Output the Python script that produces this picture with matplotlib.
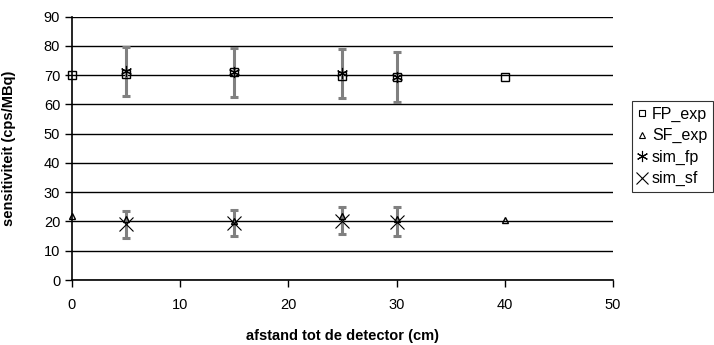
import numpy as np
from matplotlib import pyplot as plt
from matplotlib.lines import Line2D

plt.rcParams['font.family'] = ['Liberation Sans', 'DejaVu Sans']

# measured data
afstand = [0, 5, 15, 25, 30, 40]
fp_exp = [70.0, 70.5, 71.0, 69.7, 69.5, 69.3]
sf_exp = [22.0, 21.0, 20.0, 22.0, 21.0, 20.5]

# simulation (with error bars)
afstand_sim = [5, 15, 25, 30]
sim_fp = [71.3, 71.0, 70.6, 69.5]
sim_fp_err = [8.5, 8.4, 8.4, 8.5]
sim_sf = [19.0, 19.5, 20.2, 19.9]
sim_sf_err = [4.6, 4.5, 4.6, 4.9]

fig = plt.figure(figsize=(7.14, 3.45), dpi=100)
ax = fig.add_axes([0.1008, 0.1884, 0.7577, 0.7632])

grey = '#808080'
ax.errorbar(afstand_sim, sim_fp, yerr=sim_fp_err, fmt='none', ecolor=grey,
            elinewidth=2.2, capsize=3, capthick=2.2, zorder=3)
ax.errorbar(afstand_sim, sim_sf, yerr=sim_sf_err, fmt='none', ecolor=grey,
            elinewidth=2.2, capsize=3, capthick=2.2, zorder=3)

ax.plot(afstand, fp_exp, linestyle='none', marker='s', markersize=5.5,
        markerfacecolor='none', markeredgecolor='black', markeredgewidth=1,
        zorder=4, clip_on=False)
ax.plot(afstand, sf_exp, linestyle='none', marker='^', markersize=5,
        markerfacecolor='none', markeredgecolor='black', markeredgewidth=1,
        zorder=4, clip_on=False)
ax.plot(afstand_sim, sim_fp, linestyle='none', marker=(6, 2, 0), markersize=8,
        markeredgecolor='black', markeredgewidth=0.8, zorder=5)
ax.plot(afstand_sim, sim_sf, linestyle='none', marker='x', markersize=10,
        markeredgecolor='black', markeredgewidth=0.8, zorder=5)

ax.set_xlim(0, 50)
ax.set_ylim(0, 90)
ax.set_xticks(np.arange(0, 51, 10))
ax.set_yticks(np.arange(0, 91, 10))
ax.yaxis.grid(True, color='black', linewidth=1)
ax.set_axisbelow(True)
for side in ['top', 'right']:
    ax.spines[side].set_visible(False)
for side in ['left', 'bottom']:
    ax.spines[side].set_linewidth(1.2)
ax.tick_params(direction='out', length=5, width=1, labelsize=10.5, colors='black')
ax.tick_params(axis='x', pad=8)

ax.set_xlabel('afstand tot de detector (cm)', fontsize=10.5, fontweight='bold', labelpad=12)
ax.set_ylabel('sensitiviteit (cps/MBq)', fontsize=10.5, fontweight='bold')
ax.yaxis.set_label_coords(-0.103, 0.5)

handles = [
    Line2D([], [], linestyle='none', marker='s', markersize=5, markerfacecolor='none',
           markeredgecolor='black', markeredgewidth=0.8),
    Line2D([], [], linestyle='none', marker='^', markersize=5, markerfacecolor='none',
           markeredgecolor='black', markeredgewidth=0.8),
    Line2D([], [], linestyle='none', marker=(6, 2, 0), markersize=8,
           markeredgecolor='black', markeredgewidth=0.8),
    Line2D([], [], linestyle='none', marker='x', markersize=9,
           markeredgecolor='black', markeredgewidth=0.8),
]
labels = ['FP_exp', 'SF_exp', 'sim_fp', 'sim_sf']
leg = fig.legend(handles, labels, loc='upper left', bbox_to_anchor=(632 / 714, 1 - 101 / 345),
                 fontsize=11.5, frameon=True, fancybox=False, edgecolor='black',
                 handlelength=0.6, handletextpad=0.3, borderpad=0.35, labelspacing=0.4,
                 borderaxespad=0)
leg.get_frame().set_linewidth(0.8)

plt.savefig('out.png', dpi=100)
